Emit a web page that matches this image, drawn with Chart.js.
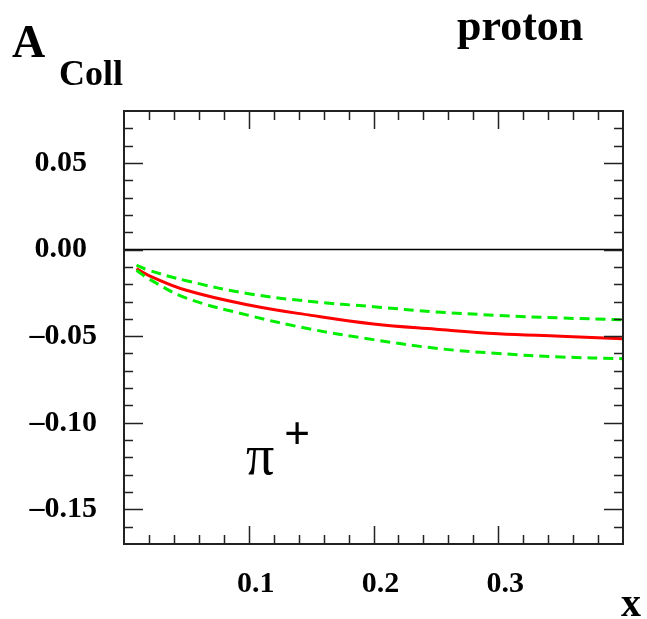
<!DOCTYPE html>
<html>
<head>
<meta charset="utf-8">
<script src="https://cdn.jsdelivr.net/npm/chart.js@4.4.1/dist/chart.umd.min.js"></script>
<style>
  body { margin: 0; background: #fff; }
  canvas { display: block; }
</style>
</head>
<body>
<canvas id="chart" width="647" height="619"></canvas>
<script>
// values
const xValues = [0.01, 0.02, 0.05, 0.1, 0.15, 0.2, 0.25, 0.3, 0.35, 0.4];
const central = [-0.011, -0.015, -0.0235, -0.032, -0.038, -0.043, -0.046, -0.0486, -0.050, -0.0515];
const upper = [-0.009, -0.012, -0.018, -0.0255, -0.030, -0.033, -0.036, -0.038, -0.0395, -0.0405];
const lower = [-0.012, -0.017, -0.028, -0.038, -0.046, -0.052, -0.057, -0.060, -0.062, -0.063];
const zeroLine = [0, 0];
const zeroX = [0, 0.4];

const xTicks = [0.1, 0.2, 0.3];
const yTicks = [-0.15, -0.10, -0.05, 0.00, 0.05];

const serif = "'Liberation Serif', 'DejaVu Serif', serif";

function pts(xs, ys) {
    return xs.map((x, i) => ({ x: x, y: ys[i] }));
}

// frame, inside ticks and the text labels
const framePlugin = {
    id: 'frame',
    afterDatasetsDraw(chart) {
        const c = chart.ctx;
        const area = chart.chartArea;
        const xs = chart.scales.x;
        const ys = chart.scales.y;
        c.save();
        c.strokeStyle = '#222';
        c.lineWidth = 2;
        c.strokeRect(area.left, area.top, area.right - area.left, area.bottom - area.top);

        c.lineWidth = 1.5;
        c.beginPath();
        // x ticks every 0.02, major every 0.1
        for (let i = 1; i < 20; i++) {
            const v = i * 0.02;
            const px = Math.round(xs.getPixelForValue(v)) + 0.5;
            const len = (i % 5 === 0) ? 18 : 9;
            c.moveTo(px, area.bottom);
            c.lineTo(px, area.bottom - len);
            c.moveTo(px, area.top);
            c.lineTo(px, area.top + len);
        }
        // y ticks every 0.01, major every 0.05
        for (let i = -16; i <= 7; i++) {
            const v = i * 0.01;
            const py = Math.round(ys.getPixelForValue(v)) + 0.5;
            const len = (i % 5 === 0) ? 19 : 9;
            c.moveTo(area.left, py);
            c.lineTo(area.left + len, py);
            c.moveTo(area.right, py);
            c.lineTo(area.right - len, py);
        }
        c.stroke();

        c.fillStyle = '#000';
        c.textAlign = 'left';
        c.textBaseline = 'alphabetic';
        c.font = 'bold 46px ' + serif;
        c.fillText('A', 12, 57);
        c.font = 'bold 36px ' + serif;
        c.fillText('Coll', 59, 85);
        c.font = 'bold 44px ' + serif;
        c.fillText('proton', 457, 40);
        c.font = '56px ' + serif;
        c.fillText('π', 246, 474);
        c.font = 'bold 46px ' + serif;
        c.fillText('+', 284, 449);
        c.font = 'bold 40px ' + serif;
        c.fillText('x', 621, 616);
        c.restore();
    }
};

new Chart(document.getElementById('chart'), {
    type: 'line',
    data: {
        datasets: [
            {
                label: 'zero',
                data: pts(zeroX, zeroLine),
                borderColor: '#000',
                borderWidth: 1.5,
                pointRadius: 0,
                tension: 0
            },
            {
                label: 'upper',
                data: pts(xValues, upper),
                borderColor: '#00ee00',
                borderWidth: 3,
                borderDash: [10, 6],
                pointRadius: 0,
                tension: 0.4
            },
            {
                label: 'lower',
                data: pts(xValues, lower),
                borderColor: '#00ee00',
                borderWidth: 3,
                borderDash: [10, 6],
                pointRadius: 0,
                tension: 0.4
            },
            {
                label: 'central',
                data: pts(xValues, central),
                borderColor: '#ff0000',
                borderWidth: 3,
                pointRadius: 0,
                tension: 0.4
            }
        ]
    },
    options: {
        responsive: false,
        animation: false,
        layout: { padding: { top: 111, right: 24, left: 0, bottom: 0 } },
        plugins: {
            legend: { display: false },
            tooltip: { enabled: false }
        },
        scales: {
            x: {
                type: 'linear',
                min: 0,
                max: 0.4,
                grid: { display: false, drawTicks: false },
                border: { display: false },
                afterBuildTicks: s => { s.ticks = xTicks.map(v => ({ value: v })); },
                afterFit: s => { s.height = 75; },
                ticks: {
                    color: '#000',
                    padding: 22,
                    labelOffset: 7,
                    maxRotation: 0,
                    font: { family: serif, size: 30, weight: 'bold' },
                    callback: v => v.toFixed(1)
                }
            },
            y: {
                type: 'linear',
                min: -0.17,
                max: 0.08,
                grid: { display: false, drawTicks: false },
                border: { display: false },
                afterBuildTicks: s => { s.ticks = yTicks.map(v => ({ value: v })); },
                afterFit: s => { s.width = 124; },
                ticks: {
                    color: '#000',
                    padding: 27,
                    font: { family: serif, size: 30, weight: 'bold' },
                    callback: v => v < 0 ? '\u2013' + Math.abs(v).toFixed(2) : v.toFixed(2) + '\u2004'
                }
            }
        }
    },
    plugins: [framePlugin]
});
</script>
</body>
</html>
